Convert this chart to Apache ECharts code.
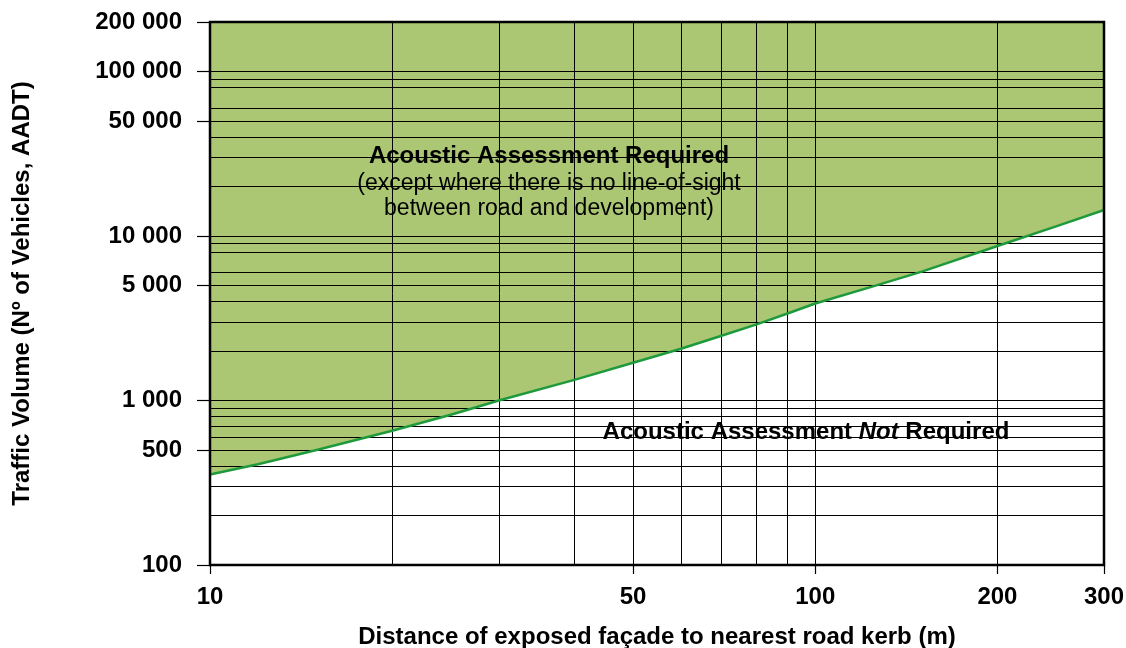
<!DOCTYPE html>
<html>
<head>
<meta charset="utf-8">
<script src="https://cdn.jsdelivr.net/npm/echarts@6/dist/echarts.min.js"></script>
<style>
html,body{margin:0;padding:0;background:#fff;}
#chart{width:1126px;height:648px;}
</style>
</head>
<body>
<div id="chart"></div>
<script>
// Distance (m) and threshold traffic volume (AADT)
var distances = [10, 12, 15, 20, 25, 30, 40, 50, 60, 70, 80, 90, 100, 125, 150, 200, 250, 300];
var thresholdVolumes = [355, 410, 500, 655, 820, 1000, 1335, 1695, 2065, 2475, 2905, 3380, 3890, 4960, 6070, 8700, 11450, 14400];

// Axis extents, grid lines and labelled ticks
var xMin = 10, xMax = 300;
var yMin = 100, yMax = 200000;
var xGridValues = [20, 30, 40, 50, 60, 70, 80, 90, 100, 200];
var yGridValues = [200, 300, 400, 500, 600, 700, 800, 900, 1000, 2000, 3000, 4000, 5000, 6000, 8000, 9000,
                   10000, 20000, 30000, 40000, 50000, 60000, 80000, 90000, 100000];
var xLabelValues = [10, 50, 100, 200, 300];
var yLabelValues = [100, 500, 1000, 5000, 10000, 50000, 100000, 200000];

// Texts
var xAxisTitle = 'Distance of exposed façade to nearest road kerb (m)';
var yAxisTitle = 'Traffic Volume (Nº of Vehicles, AADT)';
var requiredTitle = 'Acoustic Assessment Required';
var requiredNote = ['(except where there is no line-of-sight', 'between road and development)'];
var notRequiredParts = ['Acoustic Assessment ', 'Not', ' Required'];

var FONT = '"Liberation Sans", Arial, sans-serif';
var GREEN_FILL = '#acc773';
var GREEN_LINE = '#1e9a3c';

function spaced(v) {
  return String(Math.round(v)).replace(/\B(?=(\d{3})+(?!\d))/g, ' ');
}

var curve = distances.map(function (d, i) { return [d, thresholdVolumes[i]]; });
var gridMarks = xGridValues.map(function (v) { return { xAxis: v }; })
  .concat(yGridValues.map(function (v) { return { yAxis: v }; }));

var chart = echarts.init(document.getElementById('chart'), null, { renderer: 'canvas' });
chart.setOption({
  animation: false,
  backgroundColor: '#fff',
  textStyle: { fontFamily: FONT },
  grid: {
    left: 210, right: 22, top: 22, bottom: 83,
    containLabel: false, outerBoundsMode: 'none',
    show: true, z: 20, borderColor: '#000', borderWidth: 2.5,
    backgroundColor: 'transparent'
  },
  xAxis: {
    type: 'log', logBase: 10, min: xMin, max: xMax,
    axisLine: { show: false },
    splitLine: { show: false },
    axisTick: { show: true, inside: false, length: 9, customValues: xLabelValues,
                lineStyle: { color: '#000', width: 1.2 } },
    axisLabel: { customValues: xLabelValues, margin: 20, color: '#000', fontFamily: FONT,
                 fontWeight: 'bold', fontSize: 24, formatter: function (v) { return spaced(v); } },
    name: xAxisTitle, nameLocation: 'middle', nameGap: 60,
    nameTextStyle: { color: '#000', fontFamily: FONT, fontWeight: 'bold', fontSize: 24 }
  },
  yAxis: {
    type: 'log', logBase: 10, min: yMin, max: yMax,
    axisLine: { show: false },
    splitLine: { show: false },
    axisTick: { show: true, inside: false, length: 13, customValues: yLabelValues,
                lineStyle: { color: '#000', width: 1.2 } },
    axisLabel: { customValues: yLabelValues, margin: 28, color: '#000', fontFamily: FONT,
                 fontWeight: 'bold', fontSize: 24, formatter: function (v) { return spaced(v); } },
    name: yAxisTitle, nameLocation: 'middle', nameGap: 176, nameRotate: 90,
    nameTextStyle: { color: '#000', fontFamily: FONT, fontWeight: 'bold', fontSize: 24 }
  },
  series: [
    {
      name: 'area', type: 'line', data: curve, z: 1,
      smooth: false, symbol: 'none', silent: true,
      lineStyle: { width: 0, opacity: 0 },
      areaStyle: { color: GREEN_FILL, opacity: 1, origin: 'end' },
      markLine: {
        silent: true, symbol: 'none', animation: false, z: 5,
        label: { show: false },
        lineStyle: { color: '#000', width: 1, type: 'solid', opacity: 1 },
        emphasis: { disabled: true },
        data: gridMarks
      }
    },
    {
      name: 'threshold', type: 'line', data: curve, z: 10,
      smooth: false, symbol: 'none', silent: true,
      lineStyle: { color: GREEN_LINE, width: 2.5, join: 'round' }
    }
  ],
  graphic: [
    { type: 'text', z: 100,
      style: { x: 549, y: 156, text: requiredTitle, align: 'center', verticalAlign: 'middle',
               font: 'bold 24px ' + FONT, fill: '#000' } },
    { type: 'text', z: 100,
      style: { x: 549, y: 184, text: requiredNote[0], align: 'center', verticalAlign: 'middle',
               font: '23px ' + FONT, fill: '#000' } },
    { type: 'text', z: 100,
      style: { x: 549, y: 209, text: requiredNote[1], align: 'center', verticalAlign: 'middle',
               font: '23px ' + FONT, fill: '#000' } },
    { type: 'text', z: 100,
      style: { x: 806, y: 432, align: 'center', verticalAlign: 'middle',
               text: '{a|' + notRequiredParts[0] + '}{b|' + notRequiredParts[1] + '}{a|' + notRequiredParts[2] + '}',
               rich: {
                 a: { fontFamily: FONT, fontWeight: 'bold', fontSize: 24, fill: '#000', color: '#000' },
                 b: { fontFamily: FONT, fontWeight: 'bold', fontStyle: 'italic', fontSize: 24, fill: '#000', color: '#000' }
               } } }
  ]
});
</script>
</body>
</html>
